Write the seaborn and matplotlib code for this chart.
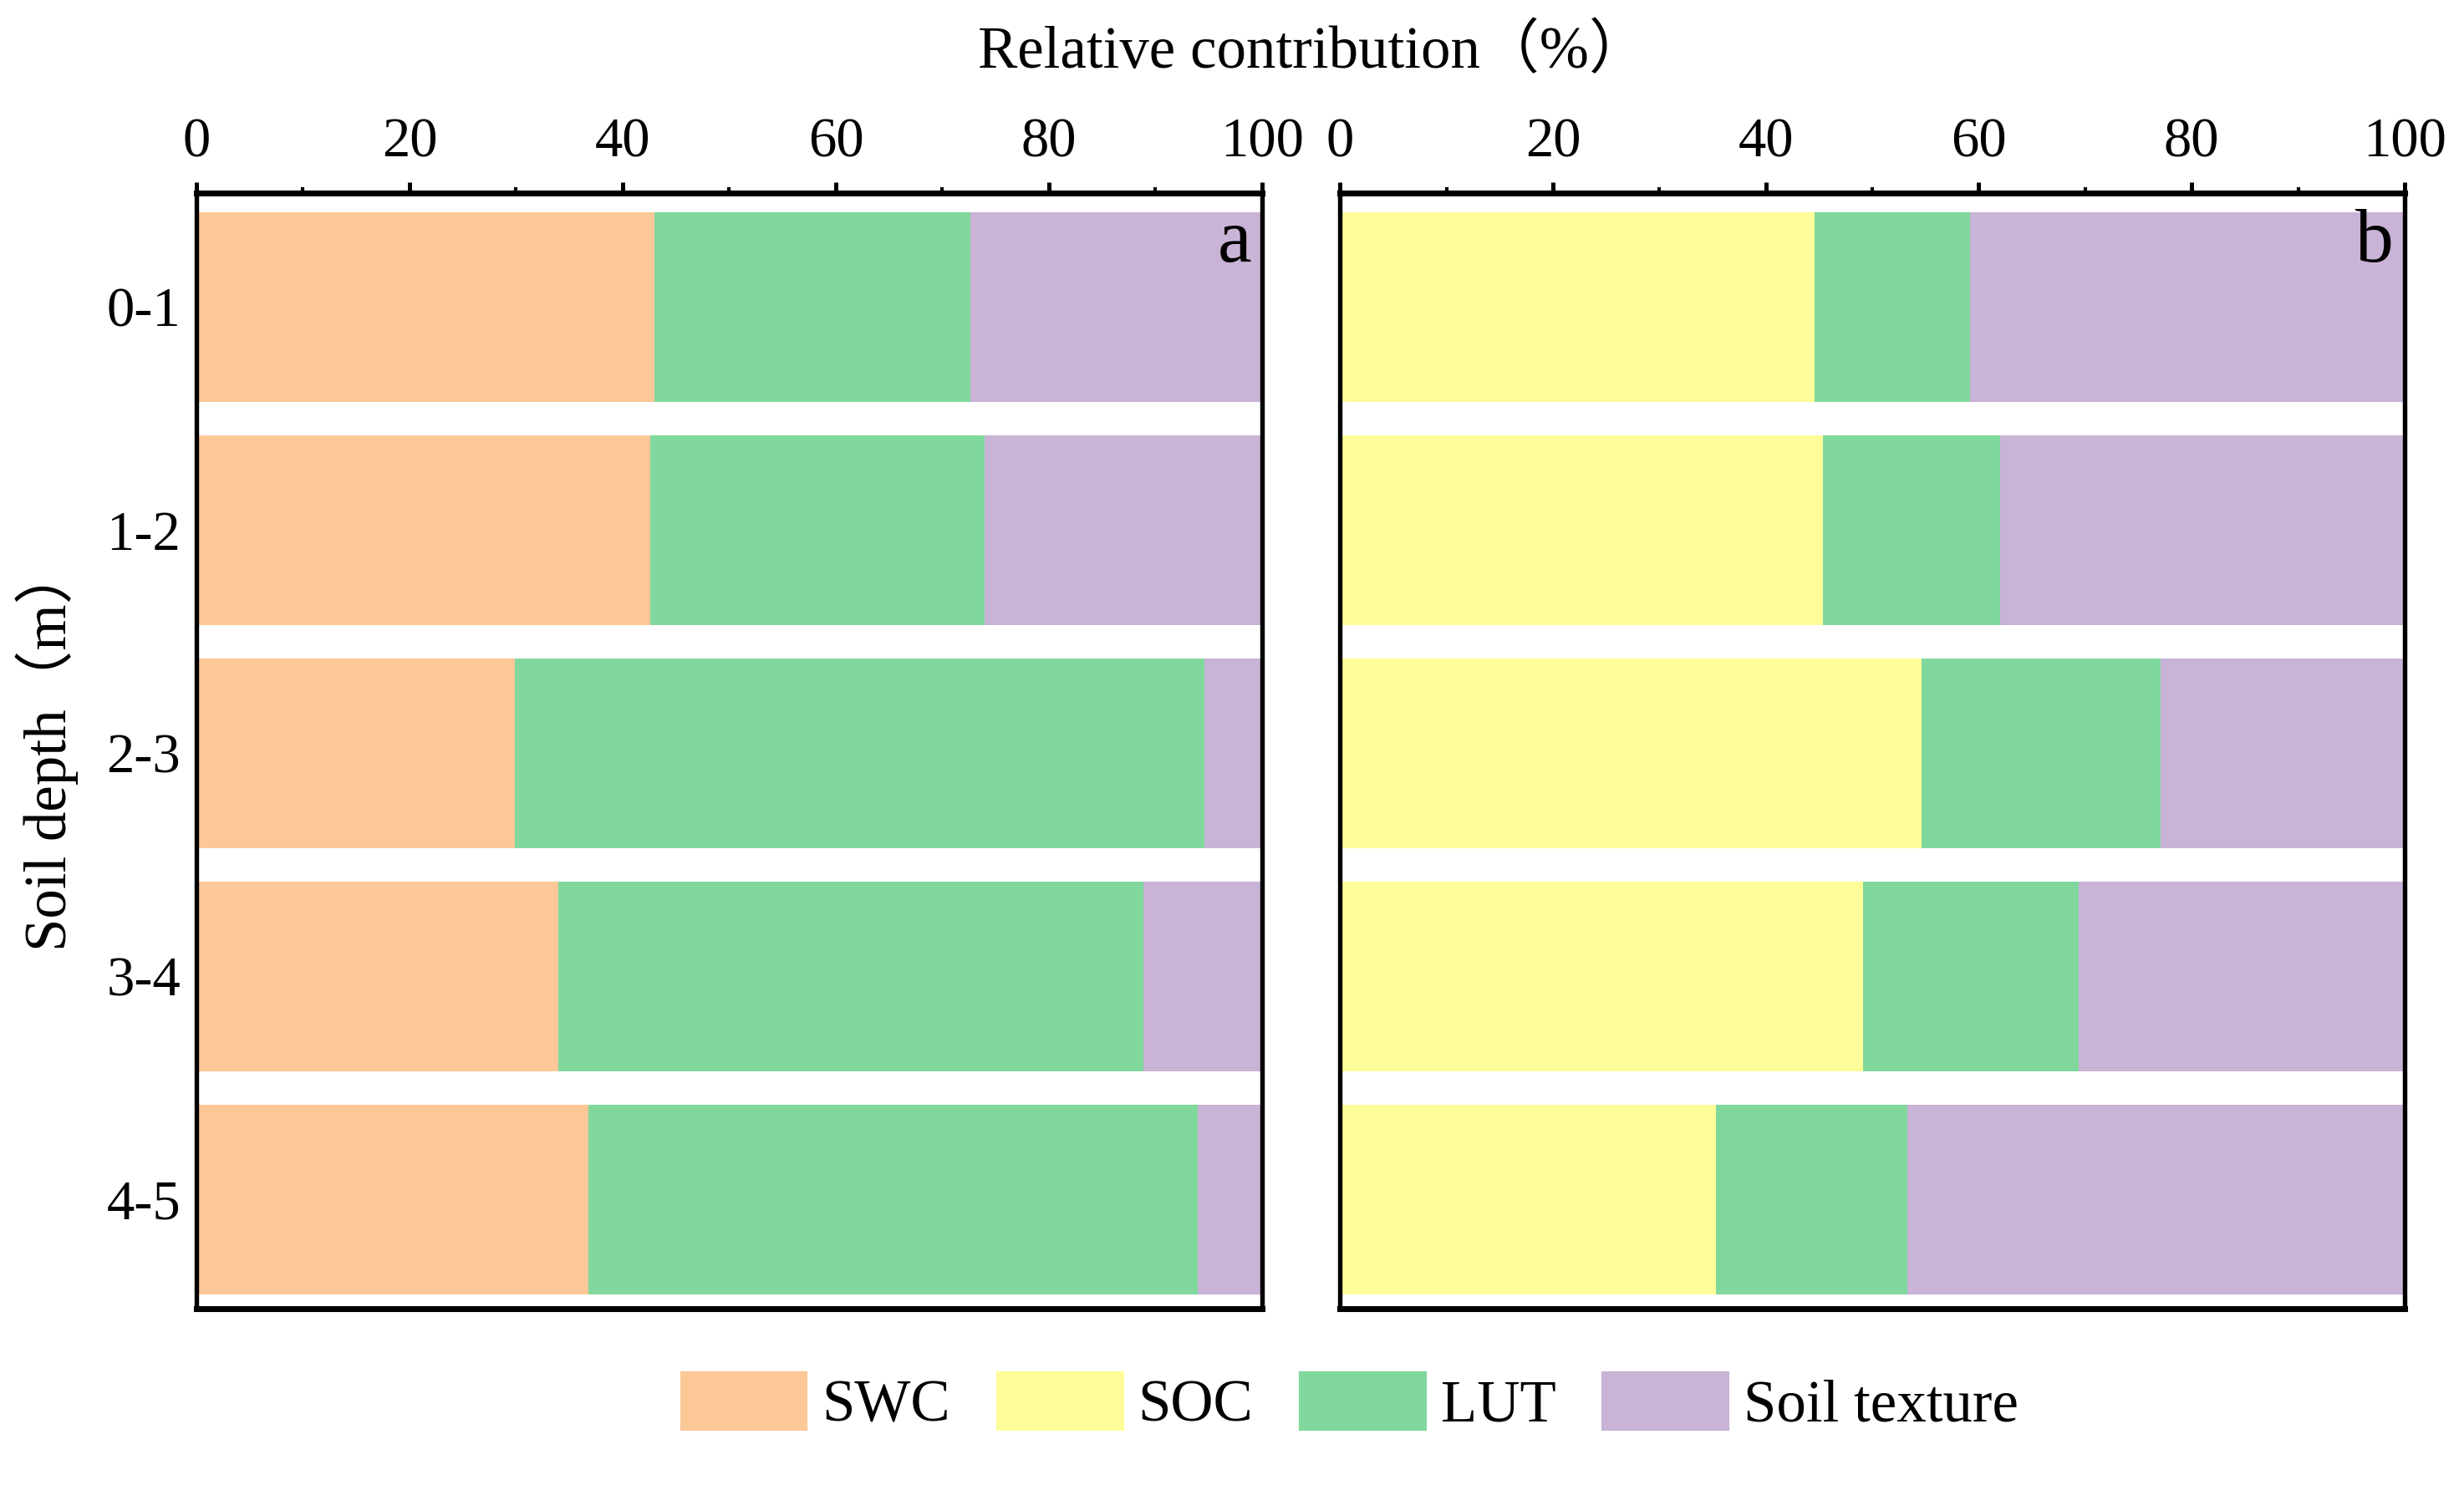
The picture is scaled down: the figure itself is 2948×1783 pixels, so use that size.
import matplotlib.pyplot as plt
import matplotlib.patches as mpatches
from matplotlib.ticker import MultipleLocator
import seaborn as sns

# Relative contribution (%) of each factor per soil depth
depths = ['0-1', '1-2', '2-3', '3-4', '4-5']

swc_a = [43.0, 42.6, 29.9, 34.0, 36.8]
lut_a = [29.6, 31.4, 64.7, 54.9, 57.2]
texture_a = [27.4, 26.0, 5.4, 11.1, 6.0]

soc_b = [44.6, 45.4, 54.6, 49.1, 35.3]
lut_b = [14.6, 16.6, 22.5, 20.3, 18.0]
texture_b = [40.8, 38.0, 22.9, 30.6, 46.7]

legend_labels = ['SWC', 'SOC', 'LUT', 'Soil texture']
colors = {'SWC': '#FDC897', 'SOC': '#FEFD99', 'LUT': '#80D89C', 'Soil texture': '#C9B3D6'}

sns.set_theme(style='ticks')
plt.rcParams['font.family'] = ['Liberation Serif', 'Noto Sans CJK SC', 'DejaVu Sans']
plt.rcParams['axes.linewidth'] = 1.3
plt.rcParams['text.color'] = 'black'
plt.rcParams['axes.labelcolor'] = 'black'
plt.rcParams['xtick.color'] = 'black'
plt.rcParams['ytick.color'] = 'black'
plt.rcParams['axes.edgecolor'] = 'black'


def stacked_bars(ax, parts, names):
    '''draw stacked horizontal bars by overlaying running totals, largest first'''
    totals = []
    running = [0.0] * len(depths)
    for part in parts:
        running = [r + p for r, p in zip(running, part)]
        totals.append(running)
    for total, name in reversed(list(zip(totals, names))):
        sns.barplot(x=total, y=depths, orient='h', color=colors[name], saturation=1,
                    width=0.85, errorbar=None, linewidth=0, ax=ax)


def style_axis(ax, show_ylabels=True):
    ax.set_xlim(0, 100)
    ax.set_ylim(4.49, -0.51)
    ax.set_xlabel('')
    ax.set_ylabel('')
    ax.xaxis.tick_top()
    ax.xaxis.set_major_locator(MultipleLocator(20))
    ax.xaxis.set_minor_locator(MultipleLocator(10))
    ax.tick_params(axis='x', which='major', direction='out', length=3.2, width=1.2,
                   pad=4, labelsize=16, top=True, bottom=False, colors='black')
    ax.tick_params(axis='x', which='minor', direction='out', length=1.7, width=1.0,
                   top=True, bottom=False)
    ax.tick_params(axis='y', direction='in', length=3.5, width=1.3, pad=4.5,
                   labelsize=16, labelleft=show_ylabels, colors='black')
    for side in ['top', 'bottom', 'left', 'right']:
        ax.spines[side].set_visible(True)
        ax.spines[side].set_color('black')
    ax.spines['top'].set_linewidth(1.7)
    ax.spines['bottom'].set_linewidth(1.7)


fig = plt.figure(figsize=(2948 / 300, 1783 / 300), dpi=300)
ax_a = fig.add_axes([0.0797, 0.1217, 0.4325, 0.7487])
ax_b = fig.add_axes([0.5438, 0.1217, 0.4321, 0.7487])

stacked_bars(ax_a, [swc_a, lut_a, texture_a], ['SWC', 'LUT', 'Soil texture'])
stacked_bars(ax_b, [soc_b, lut_b, texture_b], ['SOC', 'LUT', 'Soil texture'])

style_axis(ax_a, True)
style_axis(ax_b, False)

ax_a.text(0.99, 0.955, 'a', transform=ax_a.transAxes, ha='right', va='center', fontsize=22)
ax_b.text(0.99, 0.955, 'b', transform=ax_b.transAxes, ha='right', va='center', fontsize=22)

fig.text(0.533, 0.965, 'Relative contribution（%）', ha='center', va='center', fontsize=17)
fig.text(0.019, 0.498, 'Soil depth（m）', ha='center', va='center', rotation=90, fontsize=17)

handles = [mpatches.Patch(color=colors[name], label=name) for name in legend_labels]
fig.legend(handles=handles, loc='center', bbox_to_anchor=(0.548, 0.058), ncol=4,
           frameon=False, fontsize=17, handlelength=2.1, handleheight=1.06,
           handletextpad=0.27, columnspacing=0.8)

fig.savefig('out.png', dpi=300)
